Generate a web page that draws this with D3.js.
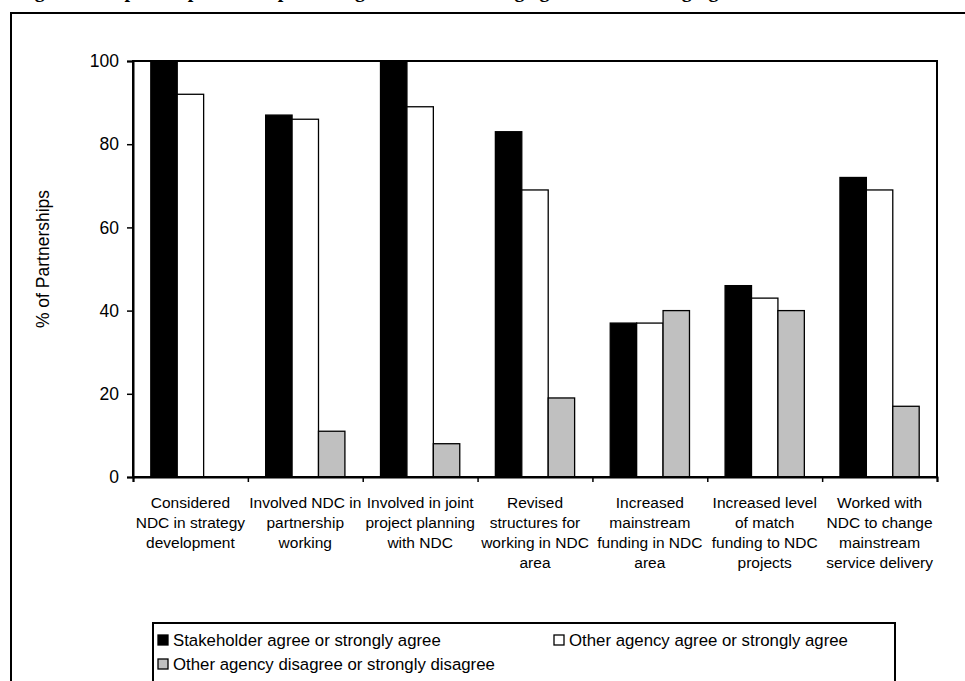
<!DOCTYPE html>
<html>
<head>
<meta charset="utf-8">
<script src="https://cdn.jsdelivr.net/npm/d3@7"></script>
<style>
  html, body { margin: 0; padding: 0; background: #fff; }
  svg { display: block; }
  text { font-family: "Liberation Sans", Arial, sans-serif; fill: #000; }
</style>
</head>
<body>
<svg id="chart" width="965" height="681"></svg>
<script>
// Survey outcomes by partnership activity
const categories = [
  ["Considered", "NDC in strategy", "development"],
  ["Involved NDC in", "partnership", "working"],
  ["Involved in joint", "project planning", "with NDC"],
  ["Revised", "structures for", "working in NDC", "area"],
  ["Increased", "mainstream", "funding in NDC", "area"],
  ["Increased level", "of match", "funding to NDC", "projects"],
  ["Worked with", "NDC to change", "mainstream", "service delivery"]
];
const seriesNames = [
  "Stakeholder agree or strongly agree",
  "Other agency agree or strongly agree",
  "Other agency disagree or strongly disagree"
];
const stakeholderAgree = [100, 87, 100, 83, 37, 46, 72];
const otherAgencyAgree = [92, 86, 89, 69, 37, 43, 69];
const otherAgencyDisagree = [0, 11, 8, 19, 40, 40, 17];
const yTicks = [0, 20, 40, 60, 80, 100];
const yTitle = "% of Partnerships";
const figureTitle = "Figure 7: Impact of partnership working on mainstreaming agendas and changing services";

const seriesValues = [stakeholderAgree, otherAgencyAgree, otherAgencyDisagree];
const fills = ["#000000", "#ffffff", "#c0c0c0"];

const svg = d3.select("#chart");

// Page heading, running off the top of the page
svg.append("text")
  .attr("x", 17).attr("y", -3.5)
  .style("font-family", "'Liberation Serif', 'Times New Roman', serif")
  .style("font-weight", "bold")
  .style("font-size", "20px")
  .text(figureTitle);

// Outer chart frame
svg.append("rect")
  .attr("x", 11).attr("y", 13)
  .attr("width", 980).attr("height", 700)
  .attr("fill", "none").attr("stroke", "#000").attr("stroke-width", 2);

const plot = { left: 133, right: 937, top: 61, bottom: 477 };
const catIdx = d3.range(categories.length);

const x0 = d3.scaleBand()
  .domain(catIdx)
  .range([plot.left, plot.right])
  .paddingInner(0.31)
  .paddingOuter(0.155);

const x1 = d3.scaleBand()
  .domain(d3.range(seriesNames.length))
  .range([0, x0.bandwidth()]);

const y = d3.scaleLinear().domain([0, 100]).range([plot.bottom, plot.top]);

// Bars
const groups = svg.append("g").selectAll("g")
  .data(catIdx)
  .join("g")
  .attr("transform", i => `translate(${x0(i)},0)`);

groups.selectAll("rect")
  .data(i => seriesValues.map((vals, s) => ({ s, v: vals[i] })))
  .join("rect")
  .filter(d => d.v > 0)
  .attr("x", d => x1(d.s))
  .attr("y", d => y(d.v))
  .attr("width", x1.bandwidth())
  .attr("height", d => y(0) - y(d.v))
  .attr("fill", d => fills[d.s])
  .attr("stroke", "#000")
  .attr("stroke-width", 1.3);

// Plot area border
svg.append("rect")
  .attr("x", plot.left).attr("y", plot.top)
  .attr("width", plot.right - plot.left).attr("height", plot.bottom - plot.top)
  .attr("fill", "none").attr("stroke", "#000").attr("stroke-width", 2);

// Y axis
const yAxis = svg.append("g")
  .attr("transform", `translate(${plot.left},0)`)
  .call(d3.axisLeft(y).tickValues(yTicks).tickSize(6).tickPadding(8));
yAxis.select(".domain").attr("stroke-width", 2);
yAxis.selectAll(".tick line").attr("stroke-width", 1.5);
yAxis.selectAll(".tick text")
  .style("font-size", "17.5px")
  .style("font-family", "'Liberation Sans', Arial, sans-serif");

// X axis: ticks at category boundaries
const xb = d3.scaleLinear().domain([0, categories.length]).range([plot.left, plot.right]);
const xAxis = svg.append("g")
  .attr("transform", `translate(0,${plot.bottom})`)
  .call(d3.axisBottom(xb).tickValues(d3.range(categories.length + 1)).tickSize(5).tickFormat(""));
xAxis.select(".domain").attr("stroke-width", 2);
xAxis.selectAll(".tick line").attr("stroke-width", 1.5);

// Category labels
svg.append("g").selectAll("text")
  .data(catIdx)
  .join("text")
  .attr("text-anchor", "middle")
  .attr("x", i => x0(i) + x0.bandwidth() / 2)
  .attr("y", 508)
  .style("font-size", "15.5px")
  .selectAll("tspan")
  .data(i => categories[i])
  .join("tspan")
  .attr("x", function () { return d3.select(this.parentNode).attr("x"); })
  .attr("dy", (d, j) => j === 0 ? 0 : 20)
  .text(d => d);

// Y axis title
svg.append("text")
  .attr("transform", `translate(49,${(plot.top + plot.bottom) / 2 - 10}) rotate(-90)`)
  .attr("text-anchor", "middle")
  .style("font-size", "17.5px")
  .text(yTitle);

// Legend
const legend = svg.append("g");
legend.append("rect")
  .attr("x", 153).attr("y", 623)
  .attr("width", 742).attr("height", 100)
  .attr("fill", "none").attr("stroke", "#000").attr("stroke-width", 2);

const legendPos = [[158, 640], [554, 640], [158, 664]];
const items = legend.selectAll("g.item")
  .data(seriesNames.map((name, s) => ({ name, s })))
  .join("g")
  .attr("class", "item")
  .attr("transform", d => `translate(${legendPos[d.s][0]},${legendPos[d.s][1]})`);

items.append("rect")
  .attr("x", 0).attr("y", -5)
  .attr("width", 10).attr("height", 10)
  .attr("fill", d => fills[d.s])
  .attr("stroke", "#000").attr("stroke-width", 1.3);

items.append("text")
  .attr("x", 15).attr("y", 6)
  .style("font-size", "16.8px")
  .text(d => d.name);
</script>
</body>
</html>
